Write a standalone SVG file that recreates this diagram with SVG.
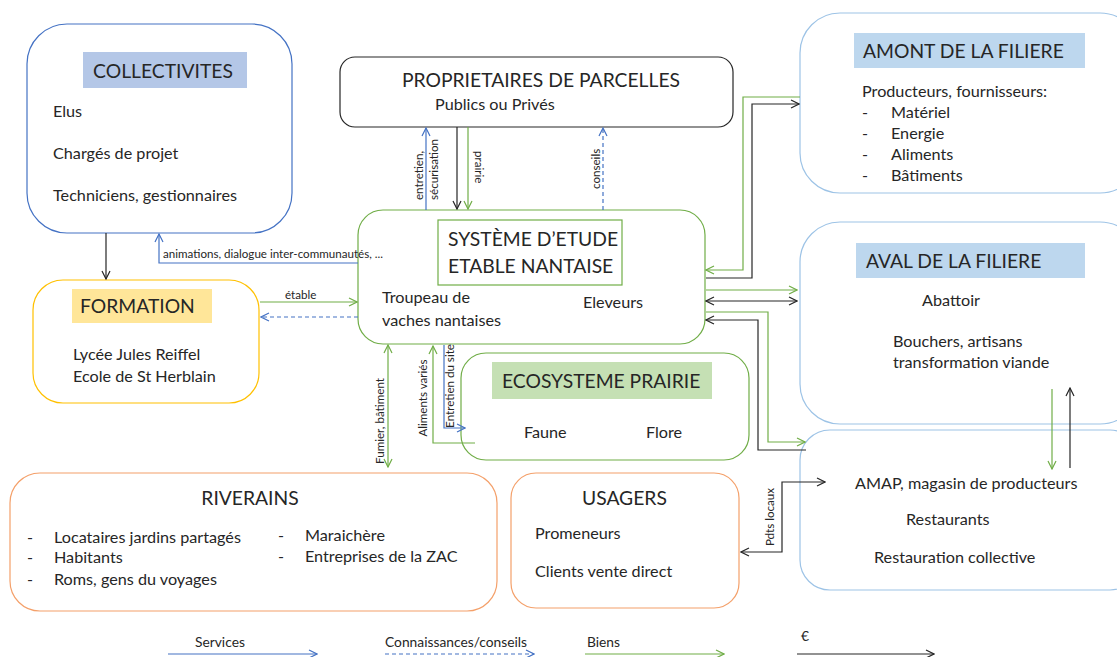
<svg xmlns="http://www.w3.org/2000/svg" width="1117" height="657" viewBox="0 0 1117 657">
<style>
text{font-family:Lato,"Liberation Sans",sans-serif;fill:#262626}
.t{font-size:19.3px}
.b{font-size:16.2px}
.s{font-size:11.6px}
.l{font-size:13.8px}
.box{fill:#fff;stroke-width:1.2}
.c{fill:none;stroke-width:1.2}
.blue{stroke:#4472c4}
.lb{stroke:#9dc3e6}
.grn{stroke:#70ad47}
.blk{stroke:#262626}
.org{stroke:#f4a06a}
.yel{stroke:#ffc000}
.dash{stroke-dasharray:4 3}
</style>
<defs>
<marker id="ab" viewBox="0 0 10 10" refX="9" refY="5" markerWidth="10" markerHeight="10" markerUnits="userSpaceOnUse" orient="auto-start-reverse"><path d="M1,1 L9,5 L1,9" fill="none" stroke="#4472c4" stroke-width="1.2"/></marker>
<marker id="ag" viewBox="0 0 10 10" refX="9" refY="5" markerWidth="10" markerHeight="10" markerUnits="userSpaceOnUse" orient="auto-start-reverse"><path d="M1,1 L9,5 L1,9" fill="none" stroke="#70ad47" stroke-width="1.2"/></marker>
<marker id="ak" viewBox="0 0 10 10" refX="9" refY="5" markerWidth="10" markerHeight="10" markerUnits="userSpaceOnUse" orient="auto-start-reverse"><path d="M1,1 L9,5 L1,9" fill="none" stroke="#262626" stroke-width="1.2"/></marker>
</defs>
<rect width="1117" height="657" fill="#fff"/>

<g id="collectivites">
<rect class="box blue" x="27" y="24" width="265" height="209" rx="40"/>
<rect x="83" y="52" width="164" height="36" fill="#b4c7e7"/>
<text class="t" x="163" y="78" text-anchor="middle">COLLECTIVITES</text>
<text class="b" x="53" y="117">Elus</text>
<text class="b" x="53" y="159">Chargés de projet</text>
<text class="b" x="53" y="201">Techniciens, gestionnaires</text>
</g>

<g id="proprietaires">
<rect class="box blk" x="340" y="57" width="393" height="70" rx="15"/>
<text class="t" x="541" y="87" text-anchor="middle">PROPRIETAIRES DE PARCELLES</text>
<text class="b" x="435" y="110">Publics ou Privés</text>
</g>

<g id="amont">
<rect class="box lb" x="800" y="13" width="340" height="180" rx="40"/>
<rect x="854" y="33" width="231" height="35" fill="#bdd7ee"/>
<text class="t" x="863" y="58">AMONT DE LA FILIERE</text>
<text class="b" x="862" y="97">Producteurs, fournisseurs:</text>
<text class="b" x="862" y="118">-</text><text class="b" x="891" y="118">Matériel</text>
<text class="b" x="862" y="139">-</text><text class="b" x="891" y="139">Energie</text>
<text class="b" x="862" y="160">-</text><text class="b" x="891" y="160">Aliments</text>
<text class="b" x="862" y="181">-</text><text class="b" x="891" y="181">Bâtiments</text>
</g>

<g id="aval">
<rect class="box lb" x="800" y="222" width="340" height="202" rx="40"/>
<rect x="856" y="243" width="229" height="35" fill="#bdd7ee"/>
<text class="t" x="866" y="268">AVAL DE LA FILIERE</text>
<text class="b" x="922" y="306">Abattoir</text>
<text class="b" x="893" y="347">Bouchers, artisans</text>
<text class="b" x="893" y="368">transformation viande</text>
</g>

<g id="distribution">
<rect class="box lb" x="800" y="430" width="340" height="160" rx="30"/>
<text class="b" x="855" y="489">AMAP, magasin de producteurs</text>
<text class="b" x="906" y="525">Restaurants</text>
<text class="b" x="874" y="563">Restauration collective</text>
</g>

<g id="systeme">
<rect class="box grn" x="358" y="210" width="347" height="134" rx="25"/>
<rect x="438" y="220" width="184" height="65" fill="#fff" stroke="#70ad47" stroke-width="1.2"/>
<text class="t" x="448" y="246">SYSTÈME D’ETUDE</text>
<text class="t" x="448" y="273">ETABLE NANTAISE</text>
<text class="b" x="382" y="303">Troupeau de</text>
<text class="b" x="382" y="326">vaches nantaises</text>
<text class="b" x="583" y="308">Eleveurs</text>
</g>

<g id="formation">
<rect class="box yel" x="33" y="280" width="226" height="123" rx="30"/>
<rect x="72" y="289" width="140" height="34" fill="#ffe699"/>
<text class="t" x="80" y="313">FORMATION</text>
<text class="b" x="73" y="360">Lycée Jules Reiffel</text>
<text class="b" x="73" y="382">Ecole de St Herblain</text>
</g>

<g id="ecosysteme">
<rect class="box grn" x="461" y="353" width="288" height="107" rx="25"/>
<rect x="492" y="362" width="220" height="37" fill="#c5e0b4"/>
<text class="t" x="502" y="388">ECOSYSTEME PRAIRIE</text>
<text class="b" x="524" y="438">Faune</text>
<text class="b" x="646" y="438">Flore</text>
</g>

<g id="riverains">
<rect class="box org" x="10" y="473" width="487" height="138" rx="30"/>
<text class="t" x="250" y="505" text-anchor="middle">RIVERAINS</text>
<text class="b" x="27" y="543">-</text><text class="b" x="54" y="543">Locataires jardins partagés</text>
<text class="b" x="27" y="563">-</text><text class="b" x="54" y="563">Habitants</text>
<text class="b" x="27" y="585">-</text><text class="b" x="54" y="585">Roms, gens du voyages</text>
<text class="b" x="278" y="541">-</text><text class="b" x="305" y="541">Maraichère</text>
<text class="b" x="278" y="562">-</text><text class="b" x="305" y="562">Entreprises de la ZAC</text>
</g>

<g id="usagers">
<rect class="box org" x="511" y="473" width="228" height="135" rx="25"/>
<text class="t" x="582" y="505">USAGERS</text>
<text class="b" x="535" y="539">Promeneurs</text>
<text class="b" x="535" y="577">Clients vente direct</text>
</g>

<g id="connectors">
<path class="c blk" d="M106,233 V279" marker-end="url(#ak)"/>
<path class="c blue" d="M358,263 H159 V234" marker-end="url(#ab)"/>
<text class="s" x="163" y="258">animations, dialogue inter-communautés, ...</text>
<path class="c grn" d="M260,302 H357" marker-end="url(#ag)"/>
<text class="s" x="285" y="299">étable</text>
<path class="c blue dash" d="M358,317 H261" marker-end="url(#ab)"/>

<path class="c blue" d="M426,210 V128" marker-end="url(#ab)"/>
<text class="s" transform="translate(423,200) rotate(-90)">entretien,</text>
<text class="s" transform="translate(438,200) rotate(-90)">sécurisation</text>
<path class="c blk" d="M457,127 V209" marker-end="url(#ak)"/>
<path class="c grn" d="M468,127 V209" marker-end="url(#ag)"/>
<text class="s" transform="translate(475,151) rotate(90)">prairie</text>
<path class="c blue dash" d="M603,210 V128" marker-end="url(#ab)"/>
<text class="s" transform="translate(600,189) rotate(-90)">conseils</text>

<path class="c grn" d="M800,97 H743 V270 H706" marker-end="url(#ag)"/>
<path class="c blk" d="M706,278 H752 V104 H799" marker-end="url(#ak)"/>
<path class="c grn" d="M706,290 H797" marker-end="url(#ag)"/>
<path class="c blk" d="M706,301 H797" marker-start="url(#ak)" marker-end="url(#ak)"/>
<path class="c grn" d="M706,312 H768 V442 H805" marker-end="url(#ag)"/>
<path class="c blk" d="M806,450 H758 V320 H706" marker-end="url(#ak)"/>

<path class="c grn" d="M1052,389 V469" marker-end="url(#ag)"/>
<path class="c blk" d="M1070,468 V388" marker-end="url(#ak)"/>

<path class="c blk" d="M825,482 H782 V552 H741" marker-start="url(#ak)" marker-end="url(#ak)"/>
<text class="s" transform="translate(774,517) rotate(-90)" text-anchor="middle">Pdts locaux</text>

<path class="c grn" d="M388,345 V467" marker-start="url(#ag)" marker-end="url(#ag)"/>
<text class="s" transform="translate(384,421) rotate(-90)" text-anchor="middle">Fumier, bâtiment</text>
<path class="c grn" d="M475,443 H433 V346" marker-end="url(#ag)"/>
<text class="s" transform="translate(427,398) rotate(-90)" text-anchor="middle">Aliments variés</text>
<path class="c blue" d="M444,345 V428 H465" marker-end="url(#ab)"/>
<text class="s" transform="translate(454,386) rotate(-90)" text-anchor="middle">Entretien du site</text>
</g>

<g id="legend">
<text class="l" x="195" y="647">Services</text>
<path class="c blue" d="M168,654 H317" marker-end="url(#ab)"/>
<text class="l" x="385" y="647">Connaissances/conseils</text>
<path class="c blue dash" d="M385,654 H534" marker-end="url(#ab)"/>
<text class="l" x="587" y="647">Biens</text>
<path class="c grn" d="M585,654 H724" marker-end="url(#ag)"/>
<text class="l" x="801" y="641">€</text>
<path class="c blk" d="M797,654 H934" marker-end="url(#ak)"/>
</g>
</svg>
